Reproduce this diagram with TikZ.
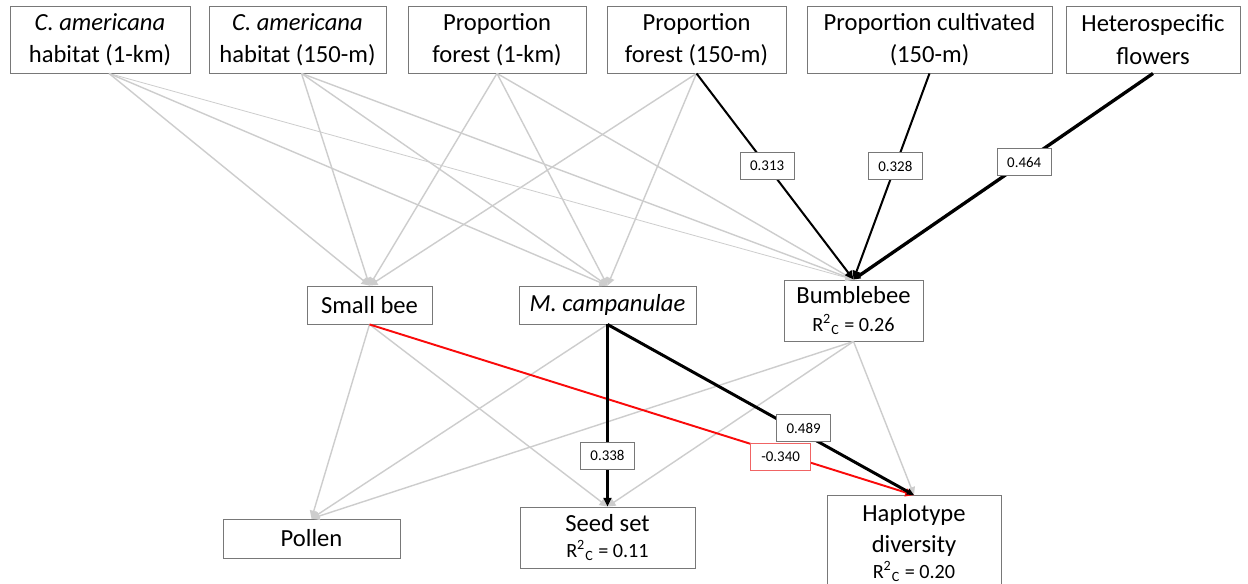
\documentclass[tikz,border=0pt]{standalone}
\usepackage{fontspec}
\setmainfont{Carlito}
\usetikzlibrary{arrows.meta,calc}
\definecolor{boxgray}{RGB}{120,120,120}
\definecolor{edgegray}{RGB}{205,205,205}
\definecolor{lblred}{RGB}{240,100,100}
\definecolor{pathred}{RGB}{250,10,10}
\newcommand{\rsq}[1]{{\fontsize{11.5}{14}\selectfont R\textsuperscript{2}\textsubscript{C} = #1}}
\begin{document}
\begin{tikzpicture}[x=0.02cm,y=-0.02cm,
  box/.style={draw=boxgray, line width=0.5pt, fill=white, align=center, inner sep=0pt, font=\fontsize{14}{18.5}\selectfont},
  lbl/.style={draw=boxgray, line width=0.5pt, fill=white, inner sep=0pt, minimum width=1.08cm, minimum height=0.54cm, font=\fontsize{8.5}{10}\selectfont},
  gedge/.style={draw=edgegray, line width=0.8pt, -{Triangle[length=4.5pt,width=4.5pt]}},
  bedge/.style={draw=black, line width=1.15pt, -{Triangle[length=5pt,width=4.5pt]}},
  tedge/.style={draw=black, line width=1.9pt, -{Triangle[length=4pt,width=3.5pt]}},
  redge/.style={draw=pathred, line width=1.1pt, -{Triangle[length=5pt,width=4.5pt]}}
]
\clip (0,0) rectangle (1248,583);
\fill[white] (0,0) rectangle (1248,583);

% top row
\node[box, minimum width=3.6cm,  minimum height=1.34cm] (b1) at (100,39.5)   {\textit{C. americana}\\habitat (1-km)};
\node[box, minimum width=3.54cm, minimum height=1.34cm] (b2) at (297.5,39.5) {\textit{C. americana}\\habitat (150-m)};
\node[box, minimum width=3.56cm, minimum height=1.34cm] (b3) at (497,39.5)   {Proportion\\forest (1-km)};
\node[box, minimum width=3.58cm, minimum height=1.34cm] (b4) at (696.5,39.5) {Proportion\\forest (150-m)};
\node[box, minimum width=4.9cm,  minimum height=1.34cm] (b5) at (929.5,39.5) {Proportion cultivated\\(150-m)};
\node[box, minimum width=3.48cm, minimum height=1.34cm] (b6) at (1153,39.5)  {Heterospecific\\flowers};

% middle row
\node[box, minimum width=2.5cm,  minimum height=0.76cm] (sb) at (369.5,305) {Small bee};
\node[box, minimum width=3.54cm, minimum height=0.76cm] (mc) at (607.5,305) {\textit{M. campanulae}};
\node[box, minimum width=2.78cm, minimum height=1.22cm] (bb) at (853.5,310.5) {Bumblebee\\[-3pt]\rsq{0.26}};

% bottom row
\node[box, minimum width=3.54cm, minimum height=0.78cm] (po) at (311.5,538.5) {Pollen};
\node[box, minimum width=3.5cm,  minimum height=1.22cm] (ss) at (607.5,537.5) {Seed set\\[-4pt]\rsq{0.11}};
\node[box, minimum width=3.48cm, minimum height=1.9cm]  (hd) at (914,543)    {Haplotype\\[-1pt]diversity\\[-4pt]\rsq{0.20}};

\coordinate (b1s) at ($(b1.south)+(9,0)$);
\coordinate (b2s) at ($(b2.south)+(4,0)$);

% gray edges top -> middle
\draw[gedge] (b1s) -- (sb.north);
\draw[gedge] (b1s) -- (mc.north);
\draw[gedge, line width=0.45pt] (b1s) -- (bb.north);
\draw[gedge] (b2s) -- (sb.north);
\draw[gedge] (b2s) -- (mc.north);
\draw[gedge] (b2s) -- (bb.north);
\draw[gedge] (b3.south) -- (sb.north);
\draw[gedge] (b3.south) -- (mc.north);
\draw[gedge] (b3.south) -- (bb.north);
\draw[gedge] (b4.south) -- (sb.north);
\draw[gedge] (b4.south) -- (mc.north);

% gray edges middle -> bottom
\draw[gedge] (sb.south) -- (po.north);
\draw[gedge] (sb.south) -- (ss.north);
\draw[gedge] (mc.south) -- (po.north);
\draw[gedge] (bb.south) -- (po.north);
\draw[gedge] (bb.south) -- (ss.north);
\draw[gedge] (bb.south) -- (hd.north);

% significant edges
\draw[bedge] (b4.south) -- node[lbl, pos=0.45] {0.313} (bb.north);
\draw[bedge] (b5.south) -- node[lbl, pos=0.45] {0.328} (bb.north);
\draw[tedge] (b6.south) -- node[lbl, pos=0.43] {0.464} (bb.north);
\draw[redge] (sb.south) -- node[lbl, draw=lblred, minimum width=1.2cm, pos=0.755, yshift=-2pt] {-0.340} (hd.north);
\draw[bedge] (mc.south) -- node[lbl, pos=0.72] {0.338} (ss.north);
\draw[tedge, line width=1.7pt] (mc.south) -- node[lbl, pos=0.64, yshift=3pt] {0.489} (hd.north);
\end{tikzpicture}
\end{document}
